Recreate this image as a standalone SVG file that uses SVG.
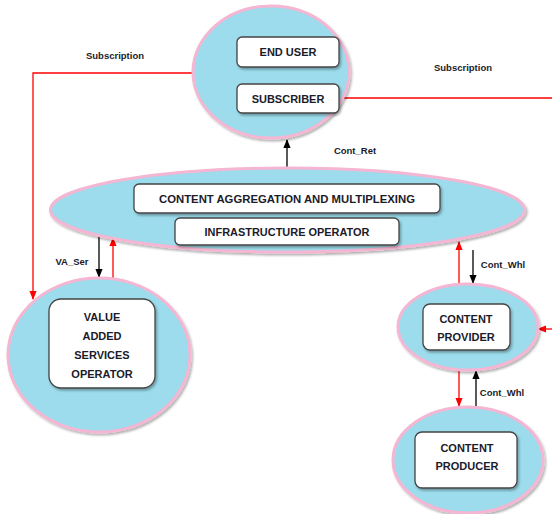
<svg xmlns="http://www.w3.org/2000/svg" width="552" height="514" viewBox="0 0 552 514">
<defs>
<filter id="sh" x="-10%" y="-10%" width="125%" height="130%"><feDropShadow dx="1.5" dy="2" stdDeviation="1.2" flood-color="#000" flood-opacity="0.3"/></filter>
<marker id="ab" viewBox="0 0 10 10" refX="9" refY="5" markerWidth="7" markerHeight="7" orient="auto"><path d="M0,1 L10,5 L0,9 z" fill="#000"/></marker>
<marker id="ar" viewBox="0 0 10 10" refX="9" refY="5" markerWidth="7" markerHeight="7" orient="auto"><path d="M0,1 L10,5 L0,9 z" fill="#f00"/></marker>
</defs>
<style>
.el{fill:#9cdcec;stroke:#f4b6d2;stroke-width:3;filter:url(#sh)}
.bx{fill:#fff;stroke:#444;stroke-width:1.3;filter:url(#sh)}
.t{font-family:"Liberation Sans",Arial,sans-serif;font-weight:bold;font-size:11px;fill:#1b1b2a;text-anchor:middle}
.l{font-family:"Liberation Sans",Arial,sans-serif;font-weight:bold;font-size:9.5px;fill:#1b1b2a;text-anchor:middle}
.k{stroke:#000;stroke-width:1.3;fill:none}
.r{stroke:#f00;stroke-width:1.3;fill:none}
</style>
<g id="connectors">
<path class="r" d="M193,73 H33 V299" marker-end="url(#ar)"/>
<path class="r" d="M339,98 H552"/>
<path class="k" d="M287,168 V140" marker-end="url(#ab)"/>
<path class="k" d="M99,236 V277" marker-end="url(#ab)"/>
<path class="r" d="M113,280 V238" marker-end="url(#ar)"/>
<path class="r" d="M459,285 V242" marker-end="url(#ar)"/>
<path class="k" d="M473,250 V283" marker-end="url(#ab)"/>
<path class="r" d="M552,329 H538" marker-end="url(#ar)"/>
<path class="r" d="M459,370 V406" marker-end="url(#ar)"/>
<path class="k" d="M476,407 V371" marker-end="url(#ab)"/>
<text class="l" x="115" y="59">Subscription</text>
<text class="l" x="463" y="71">Subscription</text>
<text class="l" x="355" y="154">Cont_Ret</text>
<text class="l" x="72" y="265">VA_Ser</text>
<text class="l" x="503" y="268">Cont_Whl</text>
<text class="l" x="502" y="396">Cont_Whl</text>
</g>
<g id="top">
<ellipse class="el" cx="271" cy="72" rx="78" ry="66"/>
<rect class="bx" x="237" y="37" width="102" height="30" rx="5"/>
<text class="t" x="288" y="56">END USER</text>
<rect class="bx" x="237" y="84" width="102" height="29" rx="5"/>
<text class="t" x="288" y="102.5">SUBSCRIBER</text>
</g>
<g id="middle">
<ellipse class="el" cx="287.5" cy="210" rx="237" ry="42"/>
<rect class="bx" x="134" y="184" width="306" height="29" rx="5"/>
<text class="t" x="287" y="202.5" textLength="256" lengthAdjust="spacingAndGlyphs">CONTENT AGGREGATION AND MULTIPLEXING</text>
<rect class="bx" x="175" y="218" width="224" height="27" rx="5"/>
<text class="t" x="287" y="235.5" textLength="165" lengthAdjust="spacingAndGlyphs">INFRASTRUCTURE OPERATOR</text>
</g>
<g id="vaso">
<ellipse class="el" cx="99" cy="355" rx="91" ry="77"/>
<rect class="bx" x="49" y="299" width="106" height="89" rx="12"/>
<text class="t" x="102" y="321">VALUE</text>
<text class="t" x="102" y="340">ADDED</text>
<text class="t" x="102" y="359">SERVICES</text>
<text class="t" x="102" y="378">OPERATOR</text>
</g>
<g id="provider">
<ellipse class="el" cx="468" cy="327" rx="70" ry="43"/>
<rect class="bx" x="423" y="304" width="87" height="46" rx="7"/>
<text class="t" x="466" y="323">CONTENT</text>
<text class="t" x="466" y="341">PROVIDER</text>
</g>
<g id="producer">
<ellipse class="el" cx="468" cy="460" rx="75" ry="53"/>
<rect class="bx" x="415" y="432" width="102" height="56" rx="7"/>
<text class="t" x="467" y="452">CONTENT</text>
<text class="t" x="467" y="470">PRODUCER</text>
</g>
</svg>
